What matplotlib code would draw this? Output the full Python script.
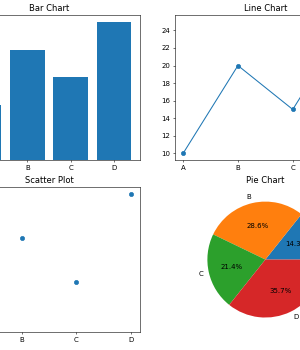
import matplotlib
matplotlib.use('Agg')
import matplotlib.pyplot as plt

categories = ['A', 'B', 'C', 'D']
values = [10, 20, 15, 25]


def main():
    # 300x350 px window onto a 2x2 grid of charts
    fig = plt.figure(figsize=(6, 7), dpi=50)

    left_x, right_x, width = -0.138, 0.583, 0.603
    top_y, bottom_y, height = 0.543, 0.0514, 0.414

    # Bar chart
    ax1 = fig.add_axes([left_x, top_y, width, height])
    ax1.bar(categories, values)
    ax1.set_title('Bar Chart')

    # Line chart
    ax2 = fig.add_axes([right_x, top_y, width, height])
    ax2.plot(categories, values, marker='o')
    ax2.set_title('Line Chart')

    # Scatter plot
    ax3 = fig.add_axes([left_x, bottom_y, width, height])
    ax3.scatter(categories, values)
    ax3.set_title('Scatter Plot')

    # Pie chart
    ax4 = fig.add_axes([right_x, bottom_y, width, height])
    ax4.pie(values, labels=categories, autopct='%1.1f%%')
    ax4.set_title('Pie Chart')

    fig.savefig('out.png', dpi=50)


if __name__ == "__main__":
    main()
